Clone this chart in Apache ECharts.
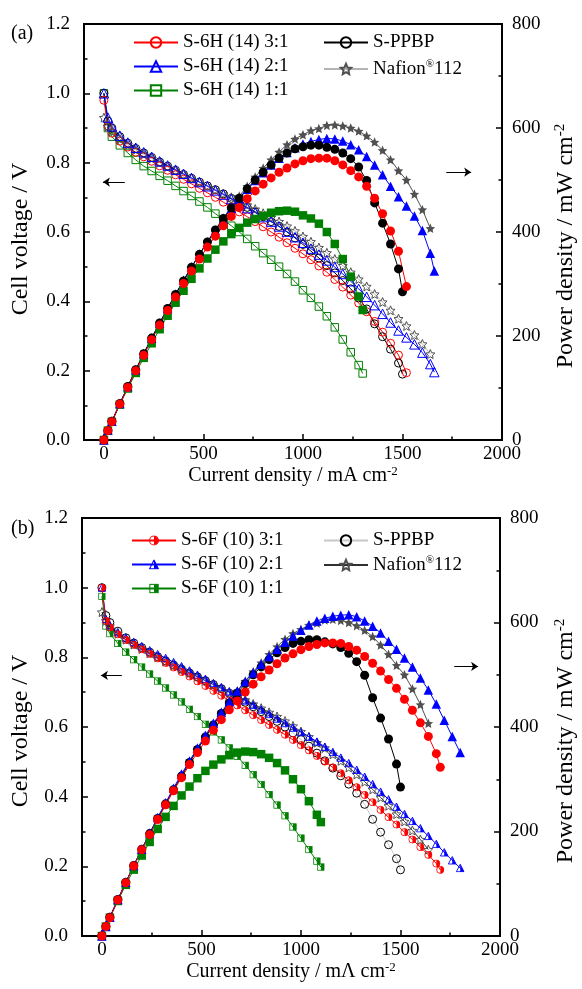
<!DOCTYPE html>
<html><head><meta charset="utf-8">
<script src="https://cdn.jsdelivr.net/npm/echarts@6/dist/echarts.min.js"></script>
<style>html,body{margin:0;padding:0;background:#fff}#c{width:582px;height:989px}</style>
</head><body><div id="c"></div>
<script>
const FONT = '"Liberation Serif","Times New Roman",serif';
// tick labels
const xMajor = [0, 500, 1000, 1500, 2000];
const xMinor = [250, 750, 1250, 1750];

// ---------- panel (a): S-6H (14) ----------
const xH31 = [0,20,40,80,120,160,200,240,280,320,360,400,440,480,520,560,600,640,680,720,760,800,840,880,920,960,1000,1040,1080,1120,1160,1200,1240,1280,1320,1360,1400,1440,1480,1520];
const vH31 = [0.98,0.905,0.885,0.862,0.845,0.830,0.817,0.804,0.791,0.778,0.765,0.752,0.739,0.726,0.713,0.700,0.686,0.672,0.658,0.644,0.630,0.615,0.600,0.585,0.569,0.553,0.537,0.520,0.502,0.484,0.463,0.441,0.418,0.395,0.370,0.342,0.311,0.279,0.245,0.194];
const pH31 = [0,18,35,69,101,133,163,193,221,249,275,301,325,348,371,392,412,430,447,464,479,492,504,515,523,531,537,541,542,542,537,529,518,506,488,465,435,402,363,295];

const xH21 = [0,20,40,80,120,160,200,240,280,320,360,400,440,480,520,560,600,640,680,720,760,800,840,880,920,960,1000,1040,1080,1120,1160,1200,1240,1280,1320,1360,1400,1440,1480,1520,1560,1600,1640,1660];
const vH21 = [1.00,0.93,0.905,0.878,0.858,0.843,0.830,0.817,0.804,0.792,0.780,0.768,0.756,0.744,0.732,0.720,0.708,0.695,0.682,0.669,0.656,0.643,0.630,0.616,0.601,0.585,0.569,0.552,0.535,0.518,0.499,0.479,0.458,0.436,0.413,0.389,0.364,0.339,0.316,0.296,0.276,0.252,0.219,0.196];
const pH21 = [0,19,36,70,103,135,166,196,225,253,281,307,333,357,381,403,425,445,464,482,499,514,529,542,553,562,569,574,578,580,579,575,568,558,545,529,510,488,468,450,431,403,359,325];

const xH11 = [0,20,40,80,120,160,200,240,280,320,360,400,440,480,520,560,600,640,680,720,760,800,840,880,920,960,1000,1040,1080,1120,1160,1200,1240,1280,1300];
const vH11 = [1.00,0.90,0.875,0.850,0.828,0.808,0.790,0.776,0.762,0.748,0.733,0.718,0.704,0.688,0.671,0.653,0.636,0.618,0.600,0.580,0.559,0.539,0.520,0.500,0.479,0.457,0.432,0.410,0.385,0.357,0.325,0.290,0.253,0.216,0.192];
const pH11 = [0,18,35,68,99,129,158,186,213,239,264,287,310,330,349,366,382,396,408,418,425,431,437,440,441,439,432,426,416,400,377,348,314,276,250];

// ---------- reference membranes (both panels) ----------
const xPPBP = [0,20,40,80,120,160,200,240,280,320,360,400,440,480,520,560,600,640,680,720,760,800,840,880,920,960,1000,1040,1080,1120,1160,1200,1240,1280,1320,1360,1400,1440,1480,1500];
const vPPBP = [1.00,0.92,0.90,0.875,0.856,0.841,0.828,0.815,0.802,0.790,0.778,0.766,0.755,0.744,0.733,0.722,0.710,0.697,0.684,0.671,0.658,0.644,0.630,0.616,0.600,0.583,0.564,0.545,0.525,0.503,0.482,0.460,0.436,0.410,0.378,0.335,0.298,0.262,0.222,0.190];
const pPPBP = [0,18,36,70,103,135,166,196,225,253,280,306,332,357,381,404,426,446,465,483,500,515,529,542,552,560,564,567,567,563,559,552,541,525,499,456,417,377,329,285];

const xNaf = [0,20,40,80,120,160,200,240,280,320,360,400,440,480,520,560,600,640,680,720,760,800,840,880,920,960,1000,1040,1080,1120,1160,1200,1240,1280,1320,1360,1400,1440,1480,1520,1560,1600,1640];
const vNaf = [0.93,0.905,0.89,0.868,0.851,0.837,0.824,0.812,0.800,0.788,0.777,0.766,0.755,0.744,0.733,0.722,0.711,0.700,0.689,0.678,0.666,0.654,0.642,0.630,0.617,0.603,0.587,0.572,0.555,0.540,0.522,0.503,0.484,0.464,0.443,0.421,0.398,0.374,0.350,0.329,0.303,0.277,0.248];
const pNaf = [0,18,36,69,102,134,165,195,224,252,280,306,332,357,381,404,427,448,469,488,506,523,539,554,568,579,587,595,599,605,606,604,600,594,585,573,557,539,518,500,473,443,407];

// ---------- panel (b): S-6F (10) ----------
const xF31 = [0,20,40,80,120,160,200,240,280,320,360,400,440,480,520,560,600,640,680,720,760,800,840,880,920,960,1000,1040,1080,1120,1160,1200,1240,1280,1320,1360,1400,1440,1480,1520,1560,1600,1640,1680,1700];
const vF31 = [1.00,0.905,0.886,0.866,0.850,0.836,0.823,0.810,0.797,0.784,0.771,0.758,0.745,0.731,0.718,0.704,0.690,0.676,0.662,0.648,0.634,0.620,0.606,0.592,0.578,0.563,0.548,0.533,0.517,0.501,0.484,0.467,0.447,0.427,0.405,0.384,0.362,0.341,0.320,0.298,0.277,0.255,0.233,0.208,0.190];
const pF31 = [0,18,35,69,102,134,165,194,223,251,278,303,328,351,373,394,414,433,450,467,482,496,509,521,532,540,548,554,558,561,561,560,554,547,535,522,507,491,474,453,432,408,382,349,323];

const xF21 = [0,20,40,80,120,160,200,240,280,320,360,400,440,480,520,560,600,640,680,720,760,800,840,880,920,960,1000,1040,1080,1120,1160,1200,1240,1280,1320,1360,1400,1440,1480,1520,1560,1600,1640,1680,1720,1760,1800];
const vF21 = [1.00,0.91,0.892,0.872,0.857,0.844,0.832,0.820,0.809,0.798,0.786,0.774,0.762,0.750,0.738,0.726,0.714,0.702,0.689,0.676,0.663,0.650,0.637,0.624,0.611,0.598,0.585,0.572,0.558,0.543,0.528,0.512,0.496,0.477,0.457,0.436,0.414,0.392,0.371,0.350,0.330,0.309,0.287,0.264,0.240,0.217,0.195];
const pF21 = [0,18,36,70,103,135,166,197,227,255,283,310,335,360,384,407,428,449,469,487,504,520,535,549,562,574,585,595,603,608,612,614,615,611,603,593,580,564,549,532,515,494,471,444,413,382,351];

const xF11 = [0,20,40,80,120,160,200,240,280,320,360,400,440,480,520,560,600,640,680,720,760,800,840,880,920,960,1000,1040,1080,1100];
const vF11 = [0.975,0.89,0.868,0.840,0.815,0.793,0.772,0.752,0.732,0.712,0.692,0.672,0.651,0.630,0.608,0.586,0.563,0.540,0.516,0.490,0.463,0.435,0.406,0.376,0.345,0.313,0.281,0.248,0.215,0.198];
const pF11 = [0,18,35,67,98,127,154,180,205,228,249,269,286,302,316,328,338,346,351,353,352,348,341,331,317,300,281,258,232,218];

// ---------- styling ----------
const RED = '#ff0000', BLUE = '#0000ff', GREEN = '#008000', BLACK = '#000000', GRAY = '#505050';
const STAR = 'path://M10,0L12.94,6.91L20,7.64L14.76,12.36L16.18,19.51L10,15.73L3.82,19.51L5.24,12.36L0,7.64L7.06,6.91Z';

function pairs(xs, ys) { return xs.map((x, i) => [x, ys[i]]); }

function half(shape, c) {
  let body;
  if (shape === 'circle') {
    body = '<path d="M10 1.5 A8.5 8.5 0 0 1 10 18.5 Z" fill="' + c + '"/><circle cx="10" cy="10" r="8.5" fill="none" stroke="' + c + '" stroke-width="2"/>';
  } else if (shape === 'triangle') {
    body = '<path d="M10 1.5 L18.5 18 L10 18 Z" fill="' + c + '"/><path d="M10 1.5 L18.5 18 L1.5 18 Z" fill="none" stroke="' + c + '" stroke-width="2" stroke-linejoin="round"/>';
  } else {
    body = '<rect x="10" y="2" width="8" height="16" fill="' + c + '"/><rect x="2" y="2" width="16" height="16" fill="none" stroke="' + c + '" stroke-width="2"/>';
  }
  const svg = '<svg xmlns="http://www.w3.org/2000/svg" width="20" height="20" viewBox="0 0 20 20">' + body + '</svg>';
  return 'image://data:image/svg+xml;charset=utf-8,' + encodeURIComponent(svg);
}

function base(g, name, xs, ys, right) {
  return { type: 'line', name: name, xAxisIndex: 2 * g, yAxisIndex: 2 * g + (right ? 1 : 0),
    data: pairs(xs, ys), showSymbol: true, showAllSymbol: true, silent: true,
    emphasis: { disabled: true }, animation: false };
}
function hollow(g, name, xs, ys, color, symbol, size, lineColor) {
  const s = base(g, name, xs, ys, false);
  s.symbol = symbol; s.symbolSize = size;
  s.itemStyle = { color: 'rgba(255,255,255,0)', borderColor: color, borderWidth: 1 };
  s.lineStyle = { color: lineColor || color, width: 1 };
  return s;
}
function halfS(g, name, xs, ys, color, shape, size) {
  const s = base(g, name, xs, ys, false);
  s.symbol = half(shape, color); s.symbolSize = size;
  s.itemStyle = { color: color };
  s.lineStyle = { color: color, width: 1 };
  return s;
}
function solid(g, name, xs, ys, color, symbol, size) {
  const s = base(g, name, xs, ys, true);
  s.symbol = symbol; s.symbolSize = size;
  s.itemStyle = { color: color, borderWidth: 0 };
  s.lineStyle = { color: color, width: 1 };
  return s;
}
function arrow(from, to) {
  return { silent: true, symbol: ['none', 'arrow'], symbolSize: 7, animation: false,
    label: { show: false }, lineStyle: { color: '#000', width: 1, type: 'solid' },
    emphasis: { disabled: true }, data: [[{ coord: from }, { coord: to }]] };
}

const tickLine = { color: '#000', width: 1.5 };
const supStyle = { fontSize: 13, lineHeight: 12, verticalAlign: 'top', fontFamily: FONT, color: '#000' };
function xAxes(g, title) {
  return [
    { gridIndex: g, type: 'value', min: -100, max: 2000, position: 'bottom',
      axisLine: { show: true, onZero: false, lineStyle: { color: '#000', width: 2 } },
      axisTick: { show: true, inside: true, length: 6, lineStyle: tickLine, customValues: xMajor },
      axisLabel: { customValues: xMajor, fontSize: 19, color: '#000', fontFamily: FONT, margin: 5,
        formatter: v => String(Math.round(v)) },
      splitLine: { show: false },
      name: title, nameLocation: 'middle', nameGap: 24,
      nameTextStyle: { fontSize: 20, color: '#000', fontFamily: FONT, lineHeight: 22, rich: { sup: supStyle } } },
    { gridIndex: g, type: 'value', min: -100, max: 2000, position: 'bottom',
      axisLine: { show: false, onZero: false }, axisLabel: { show: false }, splitLine: { show: false },
      axisTick: { show: true, inside: true, length: 3.5, lineStyle: tickLine, customValues: xMinor } }
  ];
}
function yAxes(g) {
  return [
    { gridIndex: g, type: 'value', min: 0, max: 1.2, interval: 0.2, position: 'left',
      axisLine: { show: true, onZero: false, lineStyle: { color: '#000', width: 2 } },
      axisTick: { show: true, inside: true, length: 6, lineStyle: tickLine },
      minorTick: { show: true, splitNumber: 2, length: 3.5, lineStyle: tickLine },
      axisLabel: { fontSize: 19, color: '#000', fontFamily: FONT, margin: 14, formatter: v => v.toFixed(1) },
      splitLine: { show: false }, minorSplitLine: { show: false } },
    { gridIndex: g, type: 'value', min: 0, max: 800, interval: 200, position: 'right',
      axisLine: { show: true, onZero: false, lineStyle: { color: '#000', width: 2 } },
      axisTick: { show: true, inside: true, length: 6, lineStyle: tickLine },
      minorTick: { show: true, splitNumber: 2, length: 3.5, lineStyle: tickLine },
      axisLabel: { fontSize: 19, color: '#000', fontFamily: FONT, margin: 10 },
      splitLine: { show: false }, minorSplitLine: { show: false } }
  ];
}

// rotated axis titles
function sideTitle(x, y, text) {
  return { type: 'text', x: x, y: y, rotation: Math.PI / 2, silent: true,
    style: { text: text, fontSize: 24, fontFamily: FONT, fill: '#000', align: 'center', verticalAlign: 'middle', lineHeight: 26,
      rich: { sup: { fontSize: 15, lineHeight: 14, verticalAlign: 'top', fontFamily: FONT, fill: '#000' } } } };
}

function legendFmt(name) {
  const n = name.trim();
  if (n.indexOf('Nafion') === 0) return '{t|Nafion}{s|®}{t|112}';
  return '{t|' + n + '}';
}
function legend(left, top, names, gap) {
  return { orient: 'vertical', left: left, top: top, itemWidth: 44, itemHeight: 13, itemGap: gap,
    padding: 0, selectedMode: false, data: names, formatter: legendFmt,
    textStyle: { fontSize: 19, color: '#000', fontFamily: FONT,
      rich: { t: { fontSize: 19, lineHeight: 20, fontFamily: FONT, color: '#000' },
              s: { fontSize: 11, lineHeight: 11, verticalAlign: 'top', fontFamily: FONT, color: '#000' } } } };
}

const A31 = 'S-6H (14) 3:1', A21 = 'S-6H (14) 2:1', A11 = 'S-6H (14) 1:1';
const B31 = 'S-6F (10) 3:1', B21 = 'S-6F (10) 2:1', B11 = 'S-6F (10) 1:1';
const PA = 'S-PPBP', NA = 'Nafion®112', PB = 'S-PPBP ', NB = 'Nafion®112 ';

const aV31 = hollow(0, A31, xH31, vH31, RED, 'circle', 8);
aV31.markLine = arrow([105, 0.744], [-5, 0.744]);
const aP31 = solid(0, A31, xH31, pH31, RED, 'circle', 9);
aP31.markLine = arrow([1720, 515], [1845, 515]);

const bV31 = halfS(1, B31, xF31, vF31, RED, 'circle', 8.5);
bV31.markLine = arrow([100, 0.748], [-5, 0.748]);
const bP31 = solid(1, B31, xF31, pF31, RED, 'circle', 9);
bP31.markLine = arrow([1770, 516], [1890, 516]);

const series = [
  hollow(0, A11, xH11, vH11, GREEN, 'rect', 7.5),
  hollow(0, PA, xPPBP, vPPBP, BLACK, 'circle', 8),
  aV31,
  hollow(0, NA, xNaf, vNaf, GRAY, STAR, 9, '#b4b4b4'),
  hollow(0, A21, xH21, vH21, BLUE, 'triangle', 9.5),
  solid(0, NA, xNaf, pNaf, GRAY, STAR, 9.5),
  solid(0, A11, xH11, pH11, GREEN, 'rect', 8.5),
  solid(0, A21, xH21, pH21, BLUE, 'triangle', 9.5),
  solid(0, PA, xPPBP, pPPBP, BLACK, 'circle', 9),
  aP31,

  halfS(1, B11, xF11, vF11, GREEN, 'square', 8),
  hollow(1, PB, xPPBP, vPPBP, BLACK, 'circle', 8, '#c8c8c8'),
  hollow(1, NB, xNaf, vNaf, GRAY, STAR, 9, '#303030'),
  halfS(1, B21, xF21, vF21, BLUE, 'triangle', 9),
  bV31,
  solid(1, NB, xNaf, pNaf, GRAY, STAR, 9.5),
  solid(1, B11, xF11, pF11, GREEN, 'rect', 8.5),
  solid(1, PB, xPPBP, pPPBP, BLACK, 'circle', 9),
  solid(1, B21, xF21, pF21, BLUE, 'triangle', 9.5),
  bP31
];

const chart = echarts.init(document.getElementById('c'), null, { renderer: 'canvas' });
chart.setOption({
  animation: false,
  backgroundColor: '#fff',
  textStyle: { fontFamily: FONT },
  title: [
    { text: '(a)', left: 11, top: 24, padding: 0, textStyle: { fontSize: 20, fontWeight: 'normal', fontFamily: FONT, color: '#000' } },
    { text: '(b)', left: 11, top: 519, padding: 0, textStyle: { fontSize: 20, fontWeight: 'normal', fontFamily: FONT, color: '#000' } }
  ],
  grid: [
    { left: 84, top: 24, width: 418, height: 416, show: true, borderColor: '#000', borderWidth: 2, backgroundColor: 'rgba(0,0,0,0)' },
    { left: 82, top: 518, width: 418, height: 418, show: true, borderColor: '#000', borderWidth: 2, backgroundColor: 'rgba(0,0,0,0)' }
  ],
  xAxis: xAxes(0, 'Current density / mA cm{sup|-2}').concat(xAxes(1, 'Current density / mΛ cm{sup|-2}')),
  yAxis: yAxes(0).concat(yAxes(1)),
  legend: [
    legend(133, 33, [A31, A21, A11], 5),
    legend(323, 33, [PA, NA], 7),
    legend(131, 531, [B31, B21, B11], 5),
    legend(323, 531, [PB, NB], 5)
  ],
  graphic: [
    sideTitle(21, 239, 'Cell voltage / V'),
    sideTitle(566, 246, 'Power density / mW cm{sup|-2}'),
    sideTitle(21, 731, 'Cell voltage / V'),
    sideTitle(566, 741, 'Power density / mW cm{sup|-2}')
  ],
  series: series
});
</script></body></html>
